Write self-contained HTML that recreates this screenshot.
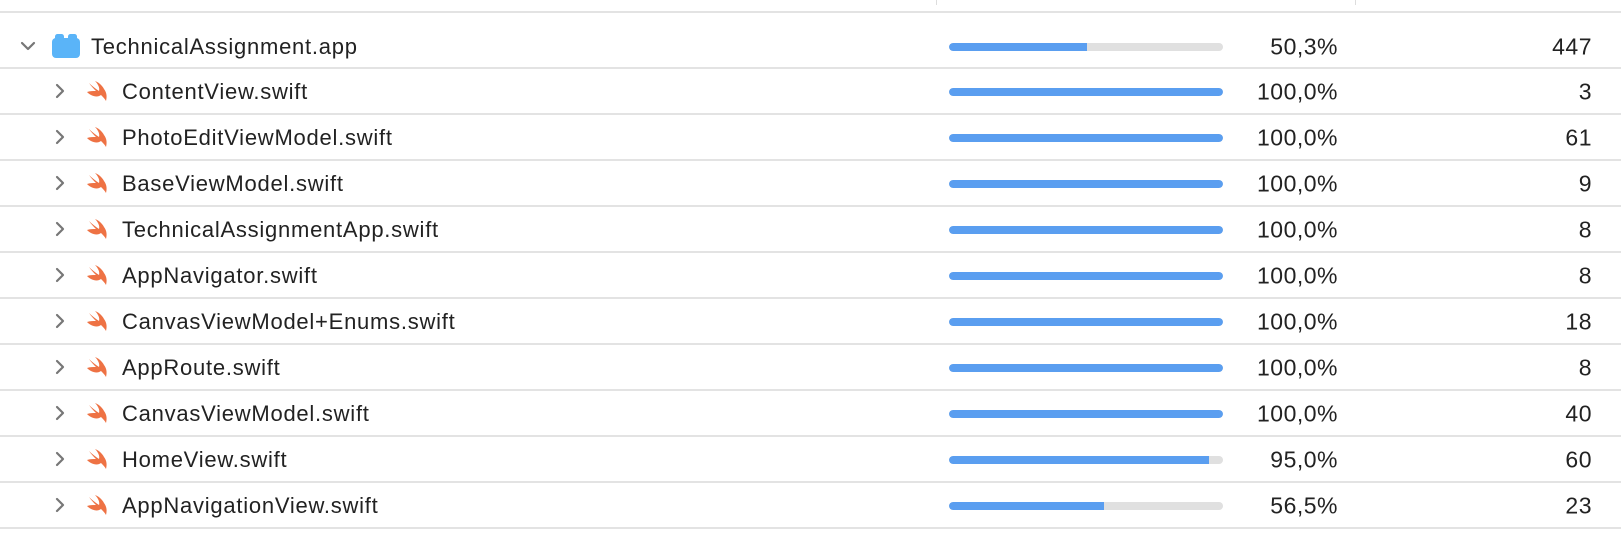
<!DOCTYPE html>
<html><head><meta charset="utf-8"><style>
body{margin:0;width:1621px;height:536px;background:#fff;overflow:hidden;font-family:"Liberation Sans",Helvetica,Arial,sans-serif;color:#222;position:relative}
.sep{position:absolute;left:0;width:1621px;height:2px;background:#e3e3e3}
.row{position:absolute;left:0;width:1621px;height:46px}
.name{position:absolute;font-size:22px;letter-spacing:0.75px;top:50%;transform:translateY(-50%);white-space:nowrap;margin-top:1px}
.pct,.cnt{position:absolute;font-size:23px;letter-spacing:0.5px;top:50%;transform:translateY(-50%);text-align:right;margin-top:1px}
.pct{right:283px}.cnt{right:29px}
.track{position:absolute;left:949px;width:274px;height:8px;top:50%;margin-top:-3px;border-radius:4px;background:#e0e0e0;overflow:hidden}
.fill{height:100%;background:#5a9ef0;border-radius:4px 0 0 4px}
.chev{position:absolute;top:50%;transform:translateY(-50%)}
</style></head><body>
<div class="sep" style="top:11px"></div>
<div style="position:absolute;left:936px;top:0;width:1px;height:5px;background:#ddd"></div>
<div style="position:absolute;left:1355px;top:0;width:1px;height:5px;background:#ddd"></div>
<div id="rows"></div>
<script>
const names=["TechnicalAssignment.app","ContentView.swift","PhotoEditViewModel.swift","BaseViewModel.swift","TechnicalAssignmentApp.swift","AppNavigator.swift","CanvasViewModel+Enums.swift","AppRoute.swift","CanvasViewModel.swift","HomeView.swift","AppNavigationView.swift"];
const coverage=[50.3,100,100,100,100,100,100,100,100,95.0,56.5];
const counts=[447,3,61,9,8,8,18,8,40,60,23];
const host=document.getElementById('rows');
names.forEach((n,i)=>{
  const top=i===0?23:68+46*(i-1);
  const r=document.createElement('div');
  r.className='row';r.style.top=top+'px';
  
  
  const child=i>0;
  const cx=child?54:20, ix=child?86:52, tx=child?122:91;
  const chev=child
    ? '<svg class="chev" style="left:'+cx+'px" width="12" height="16" viewBox="0 0 12 16"><path d="M3 2 L9 8 L3 14" fill="none" stroke="#777" stroke-width="2.2" stroke-linecap="round" stroke-linejoin="round"/></svg>'
    : '<svg class="chev" style="left:'+cx+'px" width="16" height="12" viewBox="0 0 16 12"><path d="M2 3 L8 9 L14 3" fill="none" stroke="#777" stroke-width="2.2" stroke-linecap="round" stroke-linejoin="round"/></svg>';
  const icon=child
    ? '<svg class="chev" style="left:'+ix+'px" width="23" height="20" viewBox="0 0 23 20"><path d="M1 11 C5 15 11 17 15 14 C17 16 19 18 20 20 C21 16 21 12 18 8 C16 4 12 1 9 0 C12 3 14 7 13 10 C10 8 6 5 3 2 C5 5 8 8 10 10 C7 10 4 10 1 11 Z" fill="#ee7244"/></svg>'
    : '<svg class="chev" style="left:'+ix+'px" width="28" height="24" viewBox="0 0 28 24"><rect x="0" y="4" width="28" height="20" rx="4" fill="#5ab4f8"/><rect x="3" y="0" width="9" height="7" rx="2.5" fill="#5ab4f8"/><rect x="16" y="0" width="9" height="7" rx="2.5" fill="#5ab4f8"/></svg>';
  r.innerHTML=chev+icon+
    '<div class="name" style="left:'+tx+'px">'+n+'</div>'+
    '<div class="track"><div class="fill" style="width:'+coverage[i]+'%;'+(coverage[i]>=100?'border-radius:4px':'')+'"></div></div>'+
    '<div class="pct">'+coverage[i].toFixed(1).replace('.',',')+'%</div>'+
    '<div class="cnt">'+counts[i]+'</div>';
  host.appendChild(r);
  const s=document.createElement('div');
  s.className='sep';s.style.top=(i===0?67:top+45)+'px';
  
  
  host.appendChild(s);
});
</script>
</body></html>
